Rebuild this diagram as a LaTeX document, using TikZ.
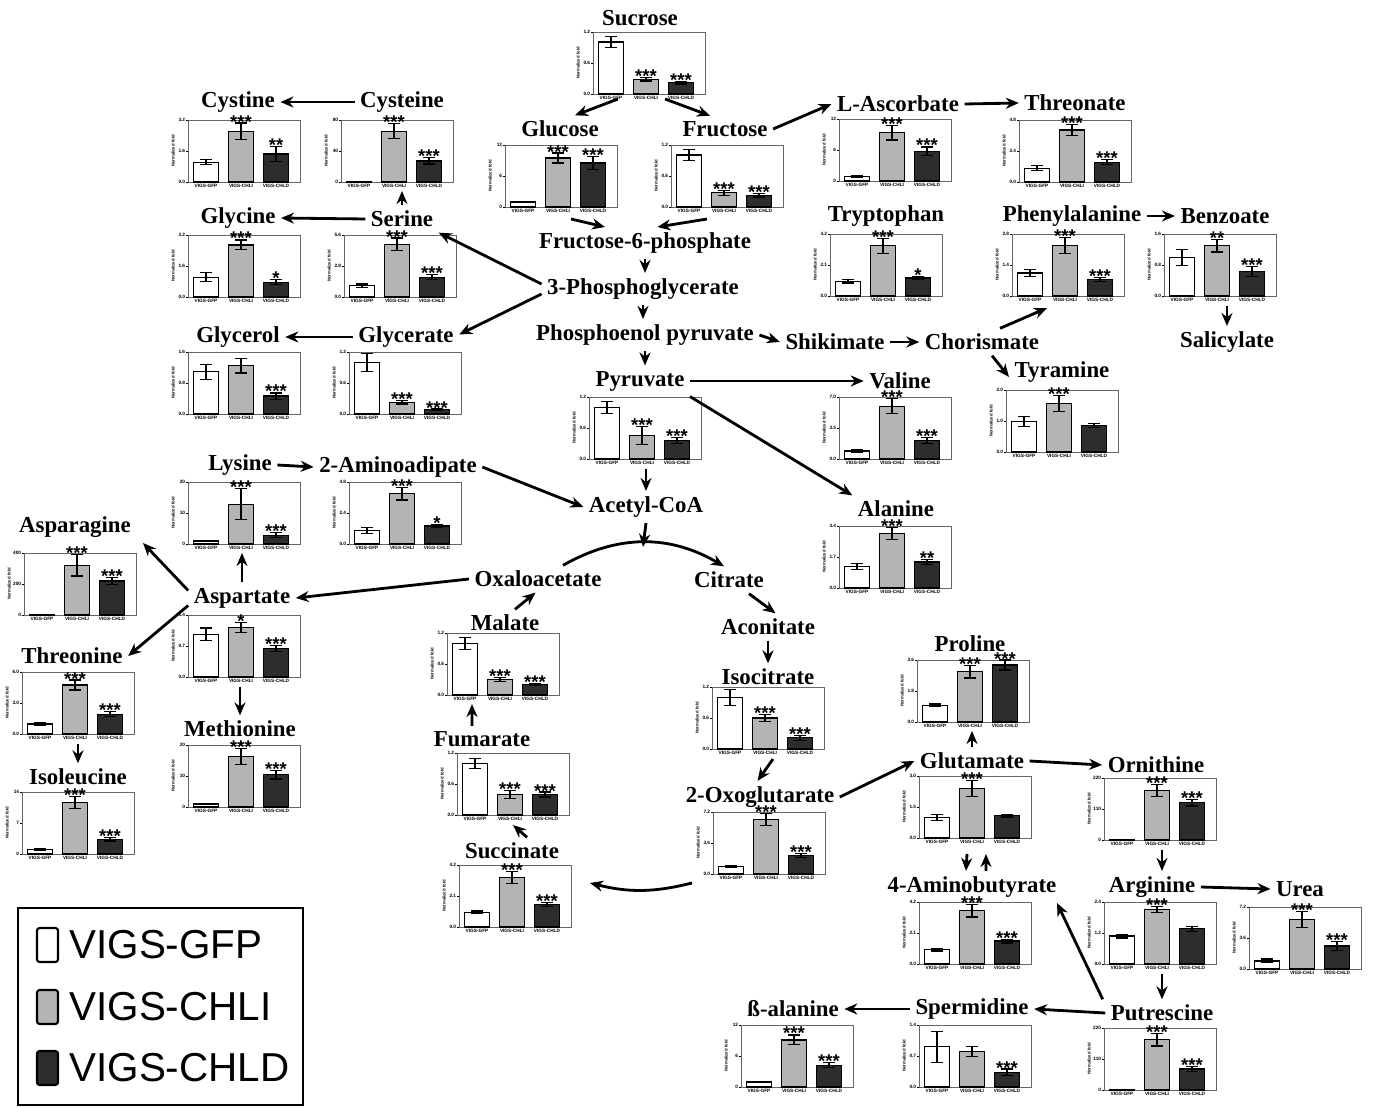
\documentclass[tikz,border=0pt]{standalone}
\usepackage{fontspec}
\setmainfont{Liberation Serif}
\setsansfont{Liberation Sans}
\usetikzlibrary{arrows.meta, positioning, calc}
\definecolor{bar1}{RGB}{255, 255, 255}
\definecolor{bar2}{RGB}{180, 180, 180}
\definecolor{bar3}{RGB}{45, 45, 45}
\tikzset{
  >=Stealth,
  flow/.style={-{Stealth[length=2.6mm, width=2.2mm]}, line width=1.6pt, black},
  metab/.style={font=\fontsize{13}{15}\selectfont\bfseries, inner sep=3pt},
  chartframe/.style={draw=black!60, line width=0.5pt, minimum width=2.24cm, minimum height=1.24cm, inner sep=0pt, outer sep=0pt},
  barbox/.style={draw=black, line width=0.7pt},
  starlbl/.style={font=\sffamily\bfseries\fontsize{10.5}{10.5}\selectfont, inner sep=0pt, anchor=base},
  ticklbl/.style={font=\sffamily\bfseries\fontsize{2.7}{2.7}\selectfont, inner sep=0.3pt},
  axislbl/.style={font=\sffamily\bfseries\fontsize{2.4}{2.4}\selectfont, inner sep=0pt},
  legendbox/.style={draw=black, line width=1pt, inner sep=0pt},
  legkey/.style={draw=black, line width=1.2pt, rounded corners=1.5pt, minimum width=0.42cm, minimum height=0.68cm, inner sep=0pt},
  legtext/.style={font=\sffamily\fontsize{23}{25}\selectfont, inner sep=0pt}
}
% mini bar chart: name, centre x, top y, bars h/err/stars, ticks
\newcommand{\minichart}[5]{%
  \node[chartframe] (#1) at (#2,#3+31) {};
  \begin{scope}[shift={(#2-56,#3)}]
    \foreach \h/\e/\s [count=\i] in {#4} {
      \pgfmathsetmacro{\bx}{18+(\i-1)*35}
      \pgfmathsetmacro{\by}{62-62*\h}
      \pgfmathsetmacro{\elo}{62-62*(\h-\e)}
      \pgfmathsetmacro{\ehi}{62-62*(\h+\e)}
      \draw[barbox, fill=bar\i] (\bx-12.5,62) rectangle (\bx+12.5,\by);
      \draw[line width=0.7pt] (\bx,\elo) -- (\bx,\ehi) (\bx-6,\elo) -- (\bx+6,\elo) (\bx-6,\ehi) -- (\bx+6,\ehi);
      \ifnum\s>0
        \node[starlbl] at (\bx,\ehi+5) {\ifcase\s\or *\or **\or ***\fi};
      \fi
    }
    \foreach \t [count=\j] in {#5} {
      \draw[line width=0.3pt] (-2,{(\j-1)*31}) -- (0,{(\j-1)*31});
      \node[ticklbl, anchor=east] at (-2,{(\j-1)*31}) {\t};
    }
    \node[ticklbl, anchor=north] at (18,63) {VIGS-GFP};
    \node[ticklbl, anchor=north] at (53,63) {VIGS-CHLI};
    \node[ticklbl, anchor=north] at (88,63) {VIGS-CHLD};
    \node[axislbl, rotate=90] at (-15,31) {Normalized fold};
  \end{scope}
}

\begin{document}
\begin{tikzpicture}[x=0.02cm, y=-0.02cm]
  \useasboundingbox[fill=white] (0,0) rectangle (1376,1108);

  % --- metabolite names ---
  \node[metab] (suc) at (640,18) {Sucrose};
  \node[metab] (cyst) at (238,102) {Cystine};
  \node[metab] (cys) at (402,102) {Cysteine};
  \node[metab] (glc) at (560,129) {Glucose};
  \node[metab] (fru) at (725,129) {Fructose};
  \node[metab] (asc) at (898,104) {L-Ascorbate};
  \node[metab] (thrn) at (1075,103) {Threonate};
  \node[metab] (gly) at (238,218) {Glycine};
  \node[metab] (ser) at (402,219) {Serine};
  \node[metab] (trp) at (886,216) {Tryptophan};
  \node[metab] (phe) at (1072,216) {Phenylalanine};
  \node[metab] (bzt) at (1225,216) {Benzoate};
  \node[metab] (f6p) at (645,243) {Fructose-6-phosphate};
  \node[metab] (pga) at (643,289) {3-Phosphoglycerate};
  \node[metab] (glyol) at (238,337) {Glycerol};
  \node[metab] (glyt) at (406,337) {Glycerate};
  \node[metab] (pep) at (645,335) {Phosphoenol pyruvate};
  \node[metab] (shk) at (835,342) {Shikimate};
  \node[metab] (chor) at (982,342) {Chorismate};
  \node[metab] (sal) at (1227,342) {Salicylate};
  \node[metab] (tyr) at (1062,372) {Tyramine};
  \node[metab] (pyr) at (640,381) {Pyruvate};
  \node[metab] (val) at (900,381) {Valine};
  \node[metab] (lys) at (240,465) {Lysine};
  \node[metab] (aad) at (398,467) {2-Aminoadipate};
  \node[metab] (acoa) at (646,507) {Acetyl-CoA};
  \node[metab] (ala) at (896,509) {Alanine};
  \node[metab] (asn) at (75,527) {Asparagine};
  \node[metab] (oaa) at (538,579) {Oxaloacetate};
  \node[metab] (cit) at (729,580) {Citrate};
  \node[metab] (asp) at (242,598) {Aspartate};
  \node[metab] (mal) at (505,623) {Malate};
  \node[metab] (acn) at (768,627) {Aconitate};
  \node[metab] (pro) at (970,644) {Proline};
  \node[metab] (thre) at (72,656) {Threonine};
  \node[metab] (icit) at (768,677) {Isocitrate};
  \node[metab] (met) at (240,729) {Methionine};
  \node[metab] (fum) at (482,739) {Fumarate};
  \node[metab] (glu) at (972,761) {Glutamate};
  \node[metab] (orn) at (1156,765) {Ornithine};
  \node[metab] (ile) at (78,777) {Isoleucine};
  \node[metab] (ogl) at (760,797) {2-Oxoglutarate};
  \node[metab] (suci) at (512,851) {Succinate};
  \node[metab] (gaba) at (972,887) {4-Aminobutyrate};
  \node[metab] (arg) at (1152,887) {Arginine};
  \node[metab] (urea) at (1300,889) {Urea};
  \node[metab] (bala) at (793,1009) {ß-alanine};
  \node[metab] (spd) at (972,1009) {Spermidine};
  \node[metab] (put) at (1162,1013) {Putrescine};

  % --- bar charts ---
  \minichart{sucC}{649}{32}{0.84/0.09/0, 0.24/0.03/3, 0.18/0.02/3}{1.2, 0.6, 0.0}
  \minichart{cystC}{244}{120}{0.32/0.04/0, 0.82/0.13/3, 0.45/0.12/2}{3.2, 1.6, 0.0}
  \minichart{cysC}{397}{120}{0.01/0/0, 0.82/0.12/3, 0.34/0.05/3}{80, 40, 0}
  \minichart{glcC}{561}{145}{0.08/0.01/0, 0.79/0.08/3, 0.71/0.10/3}{12, 6, 0}
  \minichart{fruC}{727}{145}{0.84/0.09/0, 0.23/0.04/3, 0.19/0.03/3}{1.2, 0.6, 0.0}
  \minichart{ascC}{895}{119}{0.07/0.01/0, 0.78/0.12/3, 0.48/0.07/3}{12, 6, 0}
  \minichart{thrnC}{1075}{120}{0.22/0.04/0, 0.84/0.09/3, 0.32/0.04/3}{4.8, 2.4, 0.0}
  \minichart{glyC}{244}{235}{0.32/0.07/0, 0.84/0.08/3, 0.24/0.04/1}{3.2, 1.6, 0.0}
  \minichart{serC}{400}{235}{0.18/0.03/0, 0.85/0.10/3, 0.32/0.04/3}{5.6, 2.8, 0.0}
  \minichart{trpC}{886}{234}{0.24/0.03/0, 0.81/0.12/3, 0.29/0.03/1}{4.2, 2.1, 0.0}
  \minichart{pheC}{1068}{234}{0.37/0.06/0, 0.81/0.13/3, 0.27/0.03/3}{2.8, 1.4, 0.0}
  \minichart{bztC}{1220}{234}{0.62/0.13/0, 0.81/0.10/2, 0.40/0.08/3}{1.6, 0.8, 0.0}
  \minichart{glyolC}{244}{352}{0.68/0.12/0, 0.78/0.12/0, 0.29/0.05/3}{1.6, 0.8, 0.0}
  \minichart{glytC}{405}{352}{0.83/0.14/0, 0.19/0.03/3, 0.07/0.01/3}{1.2, 0.6, 0.0}
  \minichart{pyrC}{645}{397}{0.83/0.10/0, 0.38/0.15/3, 0.30/0.05/3}{1.2, 0.6, 0.0}
  \minichart{valC}{895}{397}{0.13/0.02/0, 0.85/0.12/3, 0.30/0.05/3}{7.0, 3.5, 0.0}
  \minichart{tyrC}{1062}{390}{0.49/0.08/0, 0.78/0.13/3, 0.43/0.03/0}{2.0, 1.0, 0.0}
  \minichart{lysC}{244}{482}{0.05/0.01/0, 0.64/0.25/3, 0.14/0.04/3}{20, 10, 0}
  \minichart{aadC}{405}{482}{0.22/0.05/0, 0.81/0.10/3, 0.29/0.03/1}{4.8, 2.4, 0.0}
  \minichart{alaC}{895}{526}{0.35/0.05/0, 0.88/0.10/3, 0.42/0.04/2}{3.4, 1.7, 0.0}
  \minichart{asnC}{80}{553}{0.005/0/0, 0.80/0.17/3, 0.55/0.06/3}{400, 200, 0}
  \minichart{aspC}{244}{615}{0.69/0.10/0, 0.80/0.08/1, 0.46/0.05/3}{1.4, 0.7, 0.0}
  \minichart{malC}{503}{633}{0.83/0.10/0, 0.25/0.03/3, 0.17/0.02/3}{1.2, 0.6, 0.0}
  \minichart{icitC}{768}{687}{0.83/0.13/0, 0.50/0.06/3, 0.18/0.04/3}{1.2, 0.6, 0.0}
  \minichart{proC}{973}{660}{0.27/0.02/0, 0.81/0.10/3, 0.92/0.08/3}{3.6, 1.8, 0.0}
  \minichart{threC}{78}{672}{0.16/0.02/0, 0.79/0.08/3, 0.32/0.04/3}{6.0, 3.0, 0.0}
  \minichart{metC}{244}{745}{0.05/0.01/0, 0.81/0.13/3, 0.52/0.07/3}{20, 10, 0}
  \minichart{fumC}{513}{753}{0.83/0.08/0, 0.33/0.06/3, 0.33/0.04/3}{1.2, 0.6, 0.0}
  \minichart{gluC}{975}{776}{0.33/0.05/0, 0.80/0.13/3, 0.36/0.02/0}{3.0, 1.5, 0.0}
  \minichart{ornC}{1160}{778}{0.005/0/0, 0.80/0.10/3, 0.60/0.05/3}{220, 110, 0}
  \minichart{ileC}{78}{792}{0.07/0.01/0, 0.83/0.10/3, 0.24/0.03/3}{14, 7, 0}
  \minichart{oglC}{769}{812}{0.12/0.02/0, 0.88/0.10/3, 0.30/0.03/3}{7.2, 3.6, 0.0}
  \minichart{suciC}{515}{865}{0.24/0.02/0, 0.80/0.10/3, 0.36/0.03/3}{4.2, 2.1, 0.0}
  \minichart{gabaC}{975}{902}{0.23/0.02/0, 0.86/0.10/3, 0.37/0.03/3}{4.2, 2.1, 0.0}
  \minichart{argC}{1160}{902}{0.45/0.03/0, 0.88/0.05/3, 0.57/0.04/0}{2.4, 1.2, 0.0}
  \minichart{ureaC}{1305}{907}{0.13/0.03/0, 0.80/0.13/3, 0.37/0.07/3}{7.2, 3.6, 0.0}
  \minichart{balaC}{797}{1025}{0.08/0.01/0, 0.76/0.08/3, 0.35/0.04/3}{12, 6, 0}
  \minichart{spdC}{975}{1025}{0.65/0.25/0, 0.57/0.08/0, 0.24/0.05/3}{1.4, 0.7, 0.0}
  \minichart{putC}{1160}{1028}{0.005/0/0, 0.81/0.10/3, 0.34/0.04/3}{220, 110, 0}

  % --- connectors ---
  \draw[flow] ([xshift=-0.62cm,yshift=-0.1cm]sucC.south) -- ([xshift=0.3cm]glc.north);
  \draw[flow] ([xshift=0.32cm,yshift=-0.1cm]sucC.south) -- ([xshift=-0.3cm]fru.north);
  \draw[flow] (cys.west) -- (cyst.east);
  \draw[flow] (ser.north) -- ($(ser.north |- cysC.south)+(0,9)$);
  \draw[flow] (ser.west) -- (gly.east);
  \draw[flow] (glyt.west) -- (glyol.east);
  \draw[flow] ([yshift=0.1cm]pga.west) -- (ser.south east);
  \draw[flow] ([yshift=-0.1cm]pga.west) -- ([yshift=0.05cm]glyt.east);
  \draw[flow] ($(glcC.south)+(10,12)$) -- ([xshift=-0.8cm]f6p.north);
  \draw[flow] ($(fruC.south)+(-20,12)$) -- ([xshift=0.25cm]f6p.north);
  \draw[flow] (f6p.south) -- (f6p.south |- pga.north);
  \draw[flow] (pga.south) -- (pga.south |- pep.north);
  \draw[flow] (pep.south) -- (pep.south |- pyr.north);
  \draw[flow] (pep.east) -- (shk.west);
  \draw[flow] (shk.east) -- (chor.west);
  \draw[flow] ([xshift=0.36cm]chor.north) -- ($(pheC.south)+(-21,12)$);
  \draw[flow] ([xshift=0.2cm]chor.south) -- ([yshift=-0.1cm]tyr.west);
  \draw[flow] (phe.east) -- (bzt.west);
  \draw[flow] ($(sal.north |- bztC.south)+(0,10)$) -- (sal.north);
  \draw[flow] (fru.east) -- (asc.west);
  \draw[flow] (asc.east) -- (thrn.west);
  \draw[flow] (pyr.east) -- (val.west);
  \draw[flow] (pyr.south east) -- (ala.north west);
  \draw[flow] ($(acoa.north |- pyrC.south)+(0,10)$) -- (acoa.north);
  \draw[flow] (lys.east) -- (aad.west);
  \draw[flow] (aad.east) -- (acoa.west);
  \coordinate (tcatop) at (643,547);
  \draw[flow] (acoa.south) -- (tcatop);
  \draw[flow] ([xshift=0.5cm]oaa.north) to[bend left=30] ([xshift=-0.1cm]cit.north);
  \draw[flow] (oaa.west) -- (asp.east);
  \draw[flow] (asp.north) -- ($(asp.north |- lysC.south)+(0,9)$);
  \draw[flow] ([yshift=0.15cm]asp.west) -- ($(asnC.north east)+(7,-10)$);
  \draw[flow] ([yshift=-0.15cm]asp.west) -- (thre.east);
  \draw[flow] ($(met.north |- aspC.south)+(0,10)$) -- (met.north);
  \draw[flow] ($(ile.north |- threC.south)+(0,10)$) -- (ile.north);
  \draw[flow] ([xshift=0.2cm]mal.north) -- ([xshift=-0.05cm]oaa.south);
  \draw[flow] ([xshift=-0.2cm]fum.north) -- ($(malC.south)+(-31,9)$);
  \draw[flow] ([xshift=0.3cm]suci.north) -- ($(fumC.south)+(0,10)$);
  \draw[flow] ($(oglC.west)+(-21,40)$) to[bend left=14] ($(suciC.east)+(19,-13)$);
  \draw[flow] ([xshift=0.4cm]cit.south) -- ([xshift=0.15cm]acn.north);
  \draw[flow] (acn.south) -- (icit.north);
  \draw[flow] ($(icitC.south)+(5,10)$) -- ([xshift=-0.05cm]ogl.north);
  \draw[flow] (ogl.east) -- (glu.west);
  \draw[flow] (glu.north) -- ($(glu.north |- proC.south)+(0,9)$);
  \draw[flow] (glu.east) -- (orn.west);
  \draw[flow] ($(gluC.south)+(-8,16)$) -- ([xshift=-0.12cm]gaba.north);
  \draw[flow] ([xshift=0.28cm]gaba.north) -- ($(gluC.south)+(11,16)$);
  \draw[flow] ($(ornC.south)+(2,10)$) -- ($(ornC.south |- arg.north)+(2,0)$);
  \draw[flow] (arg.east) -- (urea.west);
  \draw[flow] ($(argC.south)+(2,10)$) -- ($(argC.south |- put.north)+(2,0)$);
  \draw[flow] ([xshift=-0.05cm]put.north west) -- ([xshift=-0.1cm]gaba.south east);
  \draw[flow] (put.west) -- (spd.east);
  \draw[flow] (spd.west) -- (bala.east);

  % --- legend ---
  \node[legendbox, minimum width=5.7cm, minimum height=3.94cm] (legend) at (160.5,1006.5) {};
  \node[legkey, fill=bar1] (kgfp) at (47.5,945) {};
  \node[legkey, fill=bar2] (kchli) at (47.5,1007) {};
  \node[legkey, fill=bar3] (kchld) at (47.5,1068) {};
  \node[legtext, right=0.2cm of kgfp] (tgfp) {VIGS-GFP};
  \node[legtext, right=0.2cm of kchli] (tchli) {VIGS-CHLI};
  \node[legtext, right=0.2cm of kchld] (tchld) {VIGS-CHLD};
\end{tikzpicture}
\end{document}
